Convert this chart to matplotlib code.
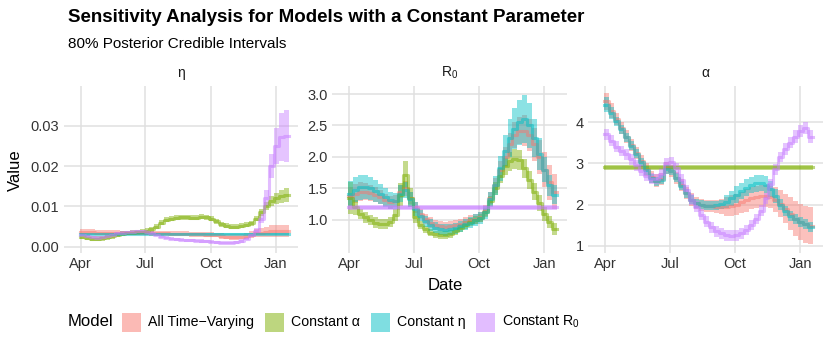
import numpy as np
import pandas as pd
import matplotlib
matplotlib.use("Agg")
import matplotlib.pyplot as plt
import matplotlib.dates as mdates
from matplotlib.patches import Rectangle

plt.rcParams['font.family'] = ['Liberation Sans', 'DejaVu Sans']

# weekly estimates, first week starts 2020-03-31
first_week = "2020-03-31"
n_weeks = 42

models = ["All Time\u2212Varying", "Constant \u03b1", "Constant \u03b7", r"Constant $\mathregular{R_0}$"]
colors = ["#F8766D", "#7CAE00", "#00BFC4", "#C77CFF"]
panel_titles = ["\u03b7", r"$\mathregular{R_0}$", "\u03b1"]

# ---- eta ----
eta_tv_med = [0.0036, 0.0036, 0.0036, 0.0035, 0.0035, 0.0035, 0.0034, 0.0034, 0.0034, 0.0034, 0.0034, 0.0034, 0.0034, 0.0034,
              0.0033, 0.0033, 0.0033, 0.0033, 0.0032, 0.0032, 0.0032, 0.0032, 0.0031, 0.0031, 0.0031, 0.0030, 0.0030, 0.0029,
              0.0027, 0.0025, 0.0024, 0.0024, 0.0025, 0.0027, 0.0030, 0.0033, 0.0035, 0.0037, 0.0039, 0.0040, 0.0040, 0.0040]
eta_tv_hw = [0.0007] * 8 + [0.0006] * 20 + [0.0007] * 6 + [0.0009, 0.0010, 0.0012, 0.0013, 0.0014, 0.0015, 0.0015, 0.0015]
eta_ca_med = [0.0025, 0.0022, 0.0020, 0.0020, 0.0021, 0.0023, 0.0026, 0.0029, 0.0032, 0.0034, 0.0035, 0.0036, 0.0037, 0.0040,
              0.0043, 0.0050, 0.0060, 0.0067, 0.0070, 0.0072, 0.0073, 0.0073, 0.0072, 0.0072, 0.0074, 0.0073, 0.0070, 0.0063,
              0.0056, 0.0052, 0.0050, 0.0050, 0.0052, 0.0055, 0.0058, 0.0070, 0.0085, 0.0102, 0.0113, 0.0120, 0.0125, 0.0129]
eta_ca_hw = [0.0006] * 35 + [0.0007, 0.0008, 0.0010, 0.0012, 0.0014, 0.0016, 0.0017]
eta_ce_val = 0.0032
eta_ce_hw = 0.00018
eta_cr_med = [0.0030, 0.0026, 0.0023, 0.0022, 0.0023, 0.0026, 0.0030, 0.0033, 0.0035, 0.0036, 0.0037, 0.0038, 0.0038, 0.0037,
              0.0035, 0.0030, 0.0025, 0.0022, 0.0020, 0.0018, 0.0017, 0.0016, 0.0016, 0.0015, 0.0014, 0.0013, 0.0012, 0.0011,
              0.0010, 0.0010, 0.0010, 0.0011, 0.0014, 0.0020, 0.0028, 0.0040, 0.0070, 0.0120, 0.0200, 0.0250, 0.0272, 0.0275]
eta_cr_hw = [0.0004] * 35 + [0.0006, 0.0010, 0.0020, 0.0030, 0.0045, 0.0060, 0.0065]

# ---- R0 ----
r0_tv_med = [1.38, 1.42, 1.45, 1.45, 1.43, 1.40, 1.36, 1.32, 1.28, 1.30, 1.45, 1.50, 1.35, 1.20,
             1.10, 1.02, 0.96, 0.92, 0.90, 0.89, 0.90, 0.92, 0.94, 0.97, 1.00, 1.02, 1.05, 1.15,
             1.35, 1.55, 1.80, 2.00, 2.20, 2.35, 2.42, 2.42, 2.35, 2.20, 2.00, 1.80, 1.60, 1.45]
r0_tv_hw = [0.15, 0.15, 0.15, 0.14, 0.13, 0.12, 0.11, 0.10, 0.10, 0.10, 0.10, 0.12, 0.10, 0.09,
            0.08, 0.08, 0.08, 0.08, 0.08, 0.08, 0.08, 0.08, 0.08, 0.08, 0.08, 0.08, 0.08, 0.09,
            0.10, 0.12, 0.14, 0.16, 0.18, 0.20, 0.22, 0.24, 0.25, 0.26, 0.27, 0.28, 0.28, 0.28]
r0_ca_med = [1.35, 1.20, 1.10, 1.04, 1.00, 0.96, 0.93, 0.93, 0.97, 1.08, 1.40, 1.72, 1.35, 1.05,
             0.92, 0.85, 0.80, 0.77, 0.76, 0.76, 0.78, 0.82, 0.87, 0.92, 0.97, 1.00, 1.03, 1.12,
             1.30, 1.50, 1.70, 1.85, 1.93, 1.97, 1.95, 1.82, 1.63, 1.45, 1.27, 1.10, 0.97, 0.86]
r0_ca_hw = [0.25, 0.12, 0.08, 0.08, 0.08, 0.08, 0.08, 0.08, 0.08, 0.10, 0.18, 0.22, 0.15, 0.10,
            0.06, 0.06, 0.06, 0.06, 0.06, 0.06, 0.06, 0.06, 0.06, 0.06, 0.06, 0.06, 0.06, 0.07,
            0.08, 0.10, 0.12, 0.14, 0.15, 0.16, 0.16, 0.15, 0.14, 0.13, 0.12, 0.11, 0.10, 0.10]
r0_ce_med = [1.42, 1.48, 1.52, 1.53, 1.50, 1.46, 1.41, 1.36, 1.31, 1.30, 1.42, 1.48, 1.33, 1.18,
             1.07, 0.98, 0.92, 0.88, 0.85, 0.84, 0.85, 0.87, 0.90, 0.93, 0.96, 1.00, 1.03, 1.12,
             1.33, 1.55, 1.82, 2.10, 2.30, 2.45, 2.55, 2.60, 2.50, 2.30, 2.05, 1.80, 1.55, 1.40]
r0_ce_hw = [0.20, 0.20, 0.20, 0.19, 0.18, 0.17, 0.16, 0.15, 0.14, 0.13, 0.13, 0.13, 0.12, 0.11,
            0.09, 0.09, 0.09, 0.09, 0.09, 0.09, 0.09, 0.09, 0.09, 0.09, 0.09, 0.09, 0.09, 0.10,
            0.12, 0.15, 0.20, 0.25, 0.30, 0.33, 0.36, 0.38, 0.35, 0.30, 0.25, 0.20, 0.17, 0.15]
r0_cr_val = 1.2
r0_cr_hw = 0.04

# ---- alpha ----
al_tv_med = [4.50, 4.28, 4.07, 3.86, 3.65, 3.45, 3.25, 3.05, 2.85, 2.66, 2.58, 2.62, 2.88, 2.82,
             2.65, 2.47, 2.28, 2.12, 2.03, 1.99, 1.97, 1.96, 1.95, 1.95, 1.95, 1.97, 2.00, 2.05,
             2.10, 2.15, 2.18, 2.20, 2.20, 2.18, 2.12, 2.02, 1.90, 1.78, 1.66, 1.58, 1.52, 1.48]
al_tv_hw = [0.20, 0.18] + [0.15] * 21 + [0.18, 0.22, 0.25, 0.26, 0.26, 0.27, 0.27, 0.27, 0.27, 0.27, 0.27,
                                        0.30, 0.33, 0.36, 0.40, 0.42, 0.44, 0.45, 0.45]
al_ca_val = 2.9
al_ca_hw = 0.06
al_ce_med = [4.42, 4.22, 4.02, 3.83, 3.63, 3.43, 3.23, 3.03, 2.83, 2.64, 2.56, 2.60, 2.86, 2.82,
             2.65, 2.46, 2.27, 2.12, 2.03, 1.99, 1.97, 1.97, 1.98, 2.01, 2.07, 2.15, 2.24, 2.33,
             2.41, 2.47, 2.51, 2.52, 2.48, 2.38, 2.20, 2.00, 1.85, 1.72, 1.64, 1.58, 1.52, 1.46]
al_ce_hw = [0.18, 0.14] + [0.11] * 22 + [0.15, 0.18, 0.20, 0.20, 0.20, 0.20, 0.20, 0.20, 0.20, 0.20,
                                        0.17, 0.14, 0.12, 0.12, 0.12, 0.12, 0.12, 0.12]
al_cr_med = [3.70, 3.55, 3.40, 3.30, 3.22, 3.10, 2.95, 2.82, 2.70, 2.63, 2.62, 2.75, 3.00, 3.02,
             2.88, 2.60, 2.35, 2.12, 1.95, 1.75, 1.58, 1.45, 1.35, 1.30, 1.25, 1.24, 1.25, 1.30,
             1.38, 1.50, 1.65, 1.85, 2.15, 2.50, 2.85, 3.15, 3.35, 3.50, 3.65, 3.78, 3.85, 3.65]
al_cr_hw = [0.13] * 36 + [0.14, 0.14, 0.15, 0.15, 0.15, 0.15]

W, H = 830, 342
fig = plt.figure(figsize=(W / 100, H / 100), dpi=100)

def fx(px):
    return px / W

def fy(py):
    return 1 - py / H

edges = pd.date_range(first_week, periods=n_weeks + 1, freq="7D")

panel_data = [
    [(eta_tv_med, eta_tv_hw), (eta_ca_med, eta_ca_hw), ([eta_ce_val] * n_weeks, [eta_ce_hw] * n_weeks), (eta_cr_med, eta_cr_hw)],
    [(r0_tv_med, r0_tv_hw), (r0_ca_med, r0_ca_hw), (r0_ce_med, r0_ce_hw), ([r0_cr_val] * n_weeks, [r0_cr_hw] * n_weeks)],
    [(al_tv_med, al_tv_hw), ([al_ca_val] * n_weeks, [al_ca_hw] * n_weeks), (al_ce_med, al_ce_hw), (al_cr_med, al_cr_hw)],
]
panel_x = [(63.5, 298.0), (332.0, 566.5), (588.0, 822.5)]
panel_top, panel_bot = 86.0, 253.0
ylims = [(-0.00156, 0.0399), (0.476, 3.127), (0.823, 4.876)]
yticks = [[0.0, 0.01, 0.02, 0.03], [1.0, 1.5, 2.0, 2.5, 3.0], [1, 2, 3, 4]]
yfmt = ["{:.2f}", "{:.1f}", "{:.0f}"]
xticks = pd.to_datetime(["2020-04-01", "2020-07-01", "2020-10-01", "2021-01-01"])

grid_col = "#E0E0E0"
txt_col = "#333333"

for i, series in enumerate(panel_data):
    x0, x1 = panel_x[i]
    ax = fig.add_axes([fx(x0), fy(panel_bot), fx(x1 - x0), (panel_bot - panel_top) / H])
    for s in ax.spines.values():
        s.set_visible(False)
    ax.set_axisbelow(True)
    ax.grid(True, color=grid_col, lw=1.1)
    ax.tick_params(length=0, labelsize=10.5, labelcolor=txt_col, pad=3)

    # ribbons first, then median lines
    for (med, hw), col in zip(series, colors):
        med = np.asarray(med, float)
        hw = np.asarray(hw, float)
        lo = np.append(med - hw, med[-1] - hw[-1])
        hi = np.append(med + hw, med[-1] + hw[-1])
        ax.fill_between(edges, lo, hi, step="post", color=col, alpha=0.45, lw=0)
    for (med, hw), col in zip(series, colors):
        med = np.asarray(med, float)
        ax.step(edges, np.append(med, med[-1]), where="post", color=col, alpha=0.5, lw=2.2)

    ax.set_xlim(pd.Timestamp("2020-03-08"), pd.Timestamp("2021-02-01"))
    ax.set_ylim(*ylims[i])
    ax.set_xticks(xticks)
    ax.xaxis.set_major_formatter(mdates.DateFormatter("%b"))
    ax.set_yticks(yticks[i])
    ax.set_yticklabels([yfmt[i].format(v) for v in yticks[i]])

    fig.text(fx((x0 + x1) / 2), fy(73), panel_titles[i], ha="center", va="center", fontsize=10, color="#1A1A1A")

# titles
fig.text(fx(68), fy(18), "Sensitivity Analysis for Models with a Constant Parameter",
         fontsize=13.5, fontweight="bold", ha="left", va="center")
fig.text(fx(68), fy(44), "80% Posterior Credible Intervals", fontsize=11, ha="left", va="center")
fig.text(fx(15.5), fy(170), "Value", rotation=90, fontsize=12, ha="center", va="center")
fig.text(fx(445), fy(285), "Date", fontsize=12, ha="center", va="center")

# legend
ly = 322
fig.text(fx(68), fy(ly), "Model", fontsize=12, ha="left", va="center")
key_x = [122, 265, 371, 476]
for kx, col, lab in zip(key_x, colors, models):
    fig.patches.append(Rectangle((fx(kx), fy(ly + 9.5)), 18.5 / W, 19 / H, transform=fig.transFigure,
                                 facecolor=col, alpha=0.5, edgecolor="none"))
    fig.text(fx(kx + 26), fy(ly), lab, fontsize=10.2, ha="left", va="center")

fig.savefig("out.png", dpi=100)
